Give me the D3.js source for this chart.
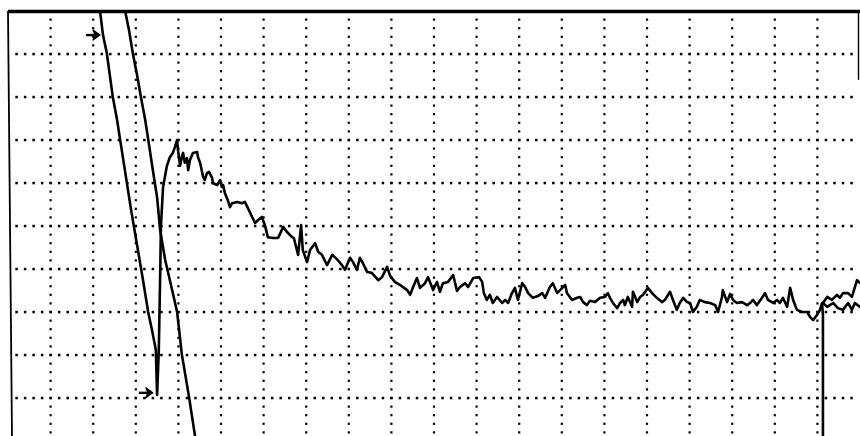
<!DOCTYPE html>
<html>
<head>
<meta charset="utf-8">
<script src="https://cdn.jsdelivr.net/npm/d3@7"></script>
<style>
  html, body { margin: 0; padding: 0; background: #fff; }
  svg { display: block; }
</style>
</head>
<body>
<svg id="scope" width="860" height="436"></svg>
<script>
// Graticule: 20 horizontal divisions, 10 vertical, 5 minor dots per division
const hDivs = 20;
const vDivs = 10;
const subDivs = 5;

// Main trace, [time (div), level (div)]
const traceMain = [
  [2.11,10.21],[2.16,10.00],[2.23,9.44],[2.32,9.02],[2.39,8.51],[2.46,8.00],[2.56,7.47],[2.63,7.02],
  [2.89,5.37],[3.17,3.74],[3.29,3.00],[3.38,2.58],[3.47,2.12],[3.50,1.07],[3.54,2.12],[3.57,3.74],
  [3.59,5.00],[3.64,5.90],[3.73,6.40],[3.80,6.60],[3.87,6.70],[3.92,6.84],[3.97,7.00],
  [3.99,6.77],[4.04,6.40],[4.08,6.60],[4.11,6.70],[4.15,6.47],[4.20,6.58],[4.23,6.30],[4.27,6.53],
  [4.34,6.70],[4.44,6.72],[4.46,6.60],[4.51,6.47],[4.58,6.14],[4.62,6.07],[4.67,6.23],[4.72,6.26],
  [4.79,6.12],[4.81,6.00],[4.91,5.95],[4.98,6.07],[5.02,5.91],[5.05,5.95],[5.09,5.77],[5.16,5.60],
  [5.21,5.44],[5.26,5.53],[5.38,5.56],[5.49,5.53],[5.56,5.56],[5.63,5.42],[5.73,5.21],[5.80,5.07],
  [5.87,5.14],[5.96,5.21],[6.03,5.02],[6.10,4.74],[6.22,4.72],[6.34,4.72],[6.46,4.98],[6.55,4.86],
  [6.67,4.74],[6.71,4.72],[6.81,4.33],[6.88,5.02],[6.92,4.44],[7.02,4.16],[7.09,4.44],[7.21,4.60],
  [7.28,4.40],[7.37,4.33],[7.49,4.09],[7.61,4.33],[7.72,4.23],[7.84,4.09],[7.91,3.98],[8.03,4.26],
  [8.10,4.16],[8.19,3.98],[8.26,4.26],[8.33,4.14],[8.43,3.93],[8.54,3.91],[8.69,3.74],[8.78,3.81],
  [8.90,4.05],[8.97,3.84],[9.08,3.70],[9.20,3.63],[9.37,3.51],[9.44,3.40],[9.51,3.58],[9.60,3.79],
  [9.67,3.56],[9.79,3.67],[9.86,3.81],[9.98,3.51],[10.07,3.70],[10.14,3.47],[10.21,3.67],[10.33,3.70],
  [10.45,3.86],[10.54,3.49],[10.61,3.58],[10.73,3.67],[10.80,3.58],[10.92,3.79],[11.06,3.81],[11.13,3.70],
  [11.17,3.44],[11.24,3.28],[11.31,3.40],[11.38,3.21],[11.48,3.35],[11.60,3.21],[11.67,3.28],[11.74,3.21],
  [11.83,3.44],[11.90,3.56],[11.97,3.28],[12.07,3.67],[12.14,3.58],[12.21,3.44],[12.32,3.33],[12.44,3.37],
  [12.54,3.44],[12.61,3.33],[12.72,3.58],[12.79,3.67],[12.89,3.44],[12.96,3.51],[13.08,3.63],[13.12,3.44],
  [13.24,3.28],[13.36,3.33],[13.43,3.35],[13.50,3.23],[13.59,3.16],[13.66,3.26],[13.78,3.23],[13.90,3.33],
  [14.01,3.35],[14.08,3.44],[14.13,3.33],[14.20,3.21],[14.30,3.09],[14.37,3.21],[14.44,3.28],[14.48,3.16],
  [14.55,3.35],[14.65,3.12],[14.67,3.47],[14.77,3.23],[14.84,3.35],[14.91,3.40],[15.02,3.56],[15.12,3.44],
  [15.23,3.33],[15.35,3.23],[15.42,3.28],[15.54,3.47],[15.61,3.28],[15.70,3.05],[15.77,3.21],[15.85,3.33],
  [15.94,3.23],[16.01,3.21],[16.08,3.00],[16.17,3.12],[16.24,3.28],[16.36,3.23],[16.48,3.21],[16.60,3.16],
  [16.67,3.00],[16.76,3.35],[16.78,3.51],[16.88,3.23],[16.95,3.42],[17.02,3.28],[17.11,3.21],[17.23,3.23],
  [17.35,3.16],[17.42,3.21],[17.49,3.28],[17.58,3.16],[17.70,3.33],[17.77,3.44],[17.84,3.28],[17.96,3.21],
  [18.05,3.28],[18.12,3.21],[18.19,3.33],[18.29,3.12],[18.36,3.56],[18.43,3.28],[18.52,3.05],[18.64,3.00],
  [18.76,3.00],[18.83,2.88],[18.90,2.81],[18.99,2.93],[19.06,3.05],[19.11,3.21],[19.13,2.93],[19.13,-0.09]
];

// Second sweep, falling straight through the screen
const traceSweep = [
  [2.70,10.26],[2.75,10.00],[2.84,9.56],[2.93,9.02],[3.03,8.51],[3.12,8.00],[3.22,7.47],[3.29,7.02],
  [3.40,6.30],[3.50,5.67],[3.57,4.91],[3.69,4.21],[3.80,3.74],[3.97,3.00],[4.08,2.02],[4.25,1.02],
  [4.39,0.12],[4.41,-0.09]
];

// Restart of the trace at the right edge (two branches)
const tailUpper = [
  [19.13,3.21],[19.23,3.35],[19.34,3.28],[19.46,3.40],[19.53,3.33],[19.60,3.44],[19.72,3.44],
  [19.81,3.35],[19.88,3.58],[19.93,3.74],[20.00,3.67]
];
const tailLower = [
  [19.13,3.21],[19.23,3.12],[19.37,3.21],[19.48,3.09],[19.60,3.05],[19.72,3.21],[19.81,3.05],
  [19.88,3.21],[20.00,3.12]
];

// Trigger markers (arrow tips), [time (div), level (div)]
const markers = [[2.16, 9.44], [3.40, 1.12]];

const W = 860, H = 436;
const svg = d3.select("#scope");

const x = d3.scaleLinear().domain([0, hDivs]).range([8, 860]);
const y = d3.scaleLinear().domain([0, vDivs]).range([441, 11]);

svg.append("rect").attr("width", W).attr("height", H).attr("fill", "#fff");

// Dotted graticule
const grid = svg.append("g").attr("fill", "#000");
const hDots = [];
for (let j = 1; j < vDivs; j++) {
  for (let k = 1; k < hDivs * subDivs; k++) hDots.push([k / subDivs, j]);
}
const vDots = [];
for (let i = 1; i < hDivs; i++) {
  for (let k = 1; k < vDivs * subDivs; k++) vDots.push([i, k / subDivs]);
}
grid.selectAll("rect.h").data(hDots).join("rect").attr("class", "h")
  .attr("x", d => x(d[0]) - 1.2).attr("y", d => y(d[1]) - 1.2)
  .attr("width", 2.5).attr("height", 2.5);
grid.selectAll("rect.v").data(vDots).join("rect").attr("class", "v")
  .attr("x", d => x(d[0]) - 1.1).attr("y", d => y(d[1]) - 1.1)
  .attr("width", 2.2).attr("height", 2.2);

// Screen frame
const frame = svg.append("g").attr("stroke", "#000").attr("fill", "none");
frame.append("line")
  .attr("x1", x(0)).attr("x2", x(hDivs)).attr("y1", y(vDivs) + 0.5).attr("y2", y(vDivs) + 0.5)
  .attr("stroke-width", 3.4);
frame.append("line")
  .attr("x1", x(0)).attr("y1", y(vDivs)).attr("x2", x(0) + 4).attr("y2", H)
  .attr("stroke-width", 1.8);
frame.append("line")
  .attr("x1", x(hDivs) - 1.5).attr("y1", y(vDivs)).attr("x2", x(hDivs) - 1.5).attr("y2", y(8.4))
  .attr("stroke-width", 1.4);

// Traces, clipped to the screen area
svg.append("clipPath").attr("id", "screen")
  .append("rect").attr("x", x(0)).attr("y", y(vDivs)).attr("width", x(hDivs) - x(0)).attr("height", H);

const line = d3.line().x(d => x(d[0])).y(d => y(d[1]));
const traces = svg.append("g").attr("clip-path", "url(#screen)")
  .attr("fill", "none").attr("stroke", "#000").attr("stroke-width", 2.6)
  .attr("stroke-linejoin", "round").attr("stroke-linecap", "round");
[traceMain, traceSweep, tailUpper, tailLower].forEach(series => {
  traces.append("path").datum(series).attr("d", line);
});

// Arrow markers pointing at the trigger points
const arrows = svg.append("g");
markers.forEach(([t, v]) => {
  const tx = x(t), ty = y(v);
  arrows.append("line")
    .attr("x1", tx - 14).attr("y1", ty).attr("x2", tx - 4).attr("y2", ty)
    .attr("stroke", "#000").attr("stroke-width", 2.4);
  arrows.append("path")
    .attr("d", `M${tx},${ty} L${tx - 7},${ty - 5} L${tx - 5},${ty} L${tx - 7},${ty + 5} Z`)
    .attr("fill", "#000").attr("stroke", "#000").attr("stroke-width", 1.2)
    .attr("stroke-linejoin", "round");
});
</script>
</body>
</html>
